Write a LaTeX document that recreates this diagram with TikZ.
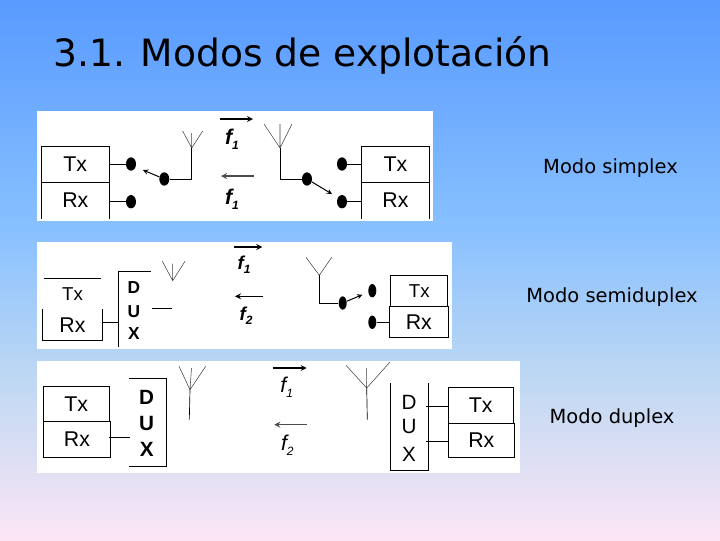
\documentclass[tikz,border=0pt]{standalone}
\usepackage{fontspec}
\setmainfont{DejaVu Sans}
\newfontfamily\arialfont{Liberation Sans}
\usetikzlibrary{shapes.geometric}
\definecolor{bgtop}{RGB}{88,154,255}
\definecolor{bgupper}{RGB}{136,192,255}
\definecolor{bglower}{RGB}{190,216,243}
\definecolor{bgbottom}{RGB}{252,230,245}
\pgfdeclareverticalshading{slidebg}{100bp}{color(0bp)=(bgbottom); color(25bp)=(bgbottom); color(40bp)=(bglower); color(54bp)=(bgupper); color(75bp)=(bgtop); color(100bp)=(bgtop)}
\newcommand{\fsub}[1]{f\raisebox{-0.45ex}{\fontsize{9}{9}\selectfont #1}}
\tikzset{
  panel/.style={draw=none, fill=white},
  unit/.style={font=\arialfont\fontsize{16}{16}\selectfont, inner sep=0pt},
  unitsmall/.style={font=\arialfont\fontsize{14}{14}\selectfont, inner sep=0pt},
  unitbox/.style={unit, draw, line width=0.75pt},
  duxbold/.style={font=\arialfont\bfseries\fontsize{15.5}{15.5}\selectfont, inner sep=0pt},
  duxsmall/.style={font=\arialfont\bfseries\fontsize{13}{13}\selectfont, inner sep=0pt},
  duxplain/.style={font=\arialfont\fontsize{15.5}{15.5}\selectfont, inner sep=0pt},
  freq/.style={font=\arialfont\bfseries\itshape\fontsize{16}{16}\selectfont, inner sep=0pt},
  freqsmall/.style={font=\arialfont\bfseries\itshape\fontsize{14}{14}\selectfont, inner sep=0pt},
  freqplain/.style={font=\arialfont\itshape\fontsize{16}{16}\selectfont, inner sep=0pt},
  dot/.style={ellipse, fill=black, inner sep=0pt, minimum width=7.5pt, minimum height=10pt},
  modo/.style={font=\fontsize{14.6}{14.6}\selectfont, inner sep=0pt},
  wire/.style={line width=0.75pt},
  aerial/.style={line width=0.4pt, black!75},
  wave/.style={->,>=stealth, line width=1pt},
}
\begin{document}
\begin{tikzpicture}[x=0.75pt,y=-0.75pt]
\shade[shading=slidebg] (0,0) rectangle (720,540);
\useasboundingbox (0,0) rectangle (720,540);
\node[anchor=base west, inner sep=0pt, font=\fontsize{28.2}{28.2}\selectfont] (title) at (53,66) {3.1. Modos de explotación};

\fill[panel] (37,111) rectangle (433,221);
\fill[panel] (37,242) rectangle (452,349);
\fill[panel] (37,361) rectangle (519.5,473);

\node[modo] (m1) at (610.5,168) {Modo simplex};
\node[modo] (m2) at (612,297) {Modo semiduplex};
\node[modo] (m3) at (612,418) {Modo duplex};

% simplex
\node[unitbox, minimum width=51pt, minimum height=27pt] (tx1) at (75.3,164.3) {Tx};
\node[unit, minimum width=51pt, minimum height=27pt] (rx1) at (75.3,200.5) {Rx};
\draw[wire] (rx1.north west) -- (rx1.south west);
\draw[wire] (rx1.north east) -- (rx1.south east);
\node[dot] (d1) at (131,164) {};
\node[dot] (d2) at (131,201.7) {};
\node[dot] (d3) at (164.3,179) {};
\coordinate (a1) at (191.7,148);
\coordinate (e1) at (191.7,179);
\coordinate (s1) at (143,170);
\draw[wire] (tx1.east |- d1) -- (d1);
\draw[wire] (rx1.east |- d2) -- (d2);
\draw[wire] (d3) -- (e1) -- (a1);
\draw[->,>=stealth, wire] (d3) -- (s1);
\draw[aerial] (a1) -- ++(-9,-17) (a1) -- ++(11,-17) (a1) -- ++(0,-15);
\coordinate (w1a) at (220,119);
\coordinate (w1b) at (253,119);
\coordinate (w2a) at (254,176);
\coordinate (w2b) at (221,176);
\draw[wave] (w1a) -- (w1b);
\draw[wave, black!70] (w2a) -- (w2b);
\node[freq] (f1) at (232,139) {\fsub{1}};
\node[freq] (f2) at (232,199) {\fsub{1}};
\node[dot] (d4) at (307,179) {};
\node[dot] (d5) at (342,164) {};
\node[dot] (d6) at (342,201.7) {};
\coordinate (a2) at (280,148);
\coordinate (e2) at (280,179);
\coordinate (s2) at (332,194);
\draw[wire] (d4) -- (e2) -- (a2);
\draw[->,>=stealth, wire] (d4) -- (s2);
\draw[aerial] (a2) -- ++(-16,-24) (a2) -- ++(12,-24) (a2) -- ++(0,-24);
\node[unitbox, minimum width=51pt, minimum height=27pt] (tx2) at (395.5,164.3) {Tx};
\node[unit, minimum width=51pt, minimum height=27pt] (rx2) at (395.5,200.5) {Rx};
\draw[wire] (rx2.north west) -- (rx2.south west);
\draw[wire] (rx2.north east) -- (rx2.south east);
\draw[wire] (d5) -- (tx2.west |- d5);
\draw[wire] (d6) -- (rx2.west |- d6);

% semiduplex
\node[unitsmall, minimum width=43pt, minimum height=23pt] (tx3) at (72.5,294) {Tx};
\draw[wire] (tx3.north west) -- (tx3.north east);
\node[unit, minimum width=44pt, minimum height=23pt] (rx3) at (72.5,325) {Rx};
\draw[wire] (rx3.north west) -- (rx3.south west) -- (rx3.south east) -- (rx3.north east);
\node[duxsmall] (dl1) at (134,287.3) {D};
\node[duxsmall] (ul1) at (134,311.3) {U};
\node[duxsmall] (xl1) at (134,334) {X};
\coordinate (c1) at (118.3,271.3);
\coordinate (c2) at (118.3,347.3);
\coordinate (c3) at (150.7,271.3);
\draw[wire] (c2) -- (c1) -- (c3);
\coordinate (c4) at (118.3,322.3);
\draw[wire] (rx3.east |- c4) -- (c4);
\coordinate (c5) at (152.3,308.3);
\coordinate (c6) at (171.7,308.3);
\draw[wire] (c5) -- (c6);
\coordinate (a3) at (172.7,280.7);
\draw[aerial] (a3) -- ++(-10.4,-19.4) (a3) -- ++(12.3,-19.4) (a3) -- ++(0,-17);
\coordinate (w3a) at (234,247);
\coordinate (w3b) at (262.3,247);
\coordinate (w4a) at (263.3,296.3);
\coordinate (w4b) at (235,296.3);
\draw[wave] (w3a) -- (w3b);
\draw[wave] (w4a) -- (w4b);
\node[freqsmall] (f3) at (244,265) {\fsub{1}};
\node[freqsmall] (f4) at (246,316) {\fsub{2}};
\node[dot, minimum width=6pt] (d7) at (342.7,303) {};
\node[dot, minimum width=6pt] (d8) at (372.3,290.7) {};
\node[dot, minimum width=6pt] (d9) at (372.3,322.3) {};
\coordinate (a4) at (319.3,275.3);
\coordinate (e4) at (319.3,303);
\coordinate (s4) at (362.3,294.7);
\draw[wire] (d7) -- (e4) -- (a4);
\draw[->,>=stealth, wire] (d7) -- (s4);
\draw[aerial] (a4) -- ++(-13.3,-18) (a4) -- ++(12.4,-18);
\node[unitsmall, minimum width=42.5pt, minimum height=23pt] (tx4) at (419.3,291) {Tx};
\draw[wire] (tx4.south west) -- (tx4.north west) -- (tx4.north east) -- (tx4.south east);
\node[unitbox, minimum width=44pt, minimum height=23pt] (rx4) at (418.8,321.7) {Rx};
\draw[wire] (d9) -- (rx4.west |- d9);

% duplex
\node[unitbox, minimum width=49.5pt, minimum height=26pt] (tx5) at (76.3,404) {Tx};
\node[unitbox, minimum width=50.5pt, minimum height=27pt] (rx5) at (77,439.3) {Rx};
\coordinate (c7) at (129.3,378);
\coordinate (c8) at (166.7,378);
\coordinate (c9) at (166.7,466.3);
\coordinate (c10) at (129.3,466.3);
\draw[wire] (c7) -- (c8) -- (c9) -- (c10);
\node[duxbold] (dl2) at (146.7,397) {D};
\node[duxbold] (ul2) at (146.7,423) {U};
\node[duxbold] (xl2) at (146.7,449.7) {X};
\coordinate (c11) at (130,437.3);
\draw[wire] (rx5.east |- c11) ++(-2,0) -- (c11);
\coordinate (a5) at (190,389.7);
\coordinate (e5) at (189.3,419.7);
\draw[wire, line width=0.5pt] (e5) -- (a5);
\draw[aerial] (a5) -- ++(-11,-23.4) (a5) -- ++(15.7,-23.4) (a5) -- ++(1.5,-21.7);
\coordinate (w5a) at (272.7,368);
\coordinate (w5b) at (306.7,368);
\coordinate (w6a) at (306.7,424.7);
\coordinate (w6b) at (274.3,424.7);
\draw[wave] (w5a) -- (w5b);
\draw[wave, black!70] (w6a) -- (w6b);
\node[freqplain] (f5) at (286.7,387.3) {\fsub{1}};
\node[freqplain] (f6) at (287.3,445.7) {\fsub{2}};
\coordinate (a6) at (366.7,388);
\coordinate (e6) at (367.3,419.7);
\draw[wire, line width=0.5pt] (e6) -- (a6);
\draw[aerial] (a6) -- ++(-20.7,-22.7) (a6) -- ++(23.3,-26) (a6) -- ++(0,-20);
\coordinate (c12) at (390.7,383);
\coordinate (c13) at (390.7,470.3);
\coordinate (c14) at (428.7,470.3);
\coordinate (c15) at (428.7,383);
\draw[wire] (c12) -- (c13) -- (c14) -- (c15);
\node[duxplain] (dl3) at (409,402.3) {D};
\node[duxplain] (ul3) at (409,426.3) {U};
\node[duxplain] (xl3) at (409,454.7) {X};
\node[unitbox, minimum width=48.7pt, minimum height=26.7pt] (tx6) at (480.8,405.2) {Tx};
\node[unitbox, minimum width=49.5pt, minimum height=26.2pt] (rx6) at (481.3,440.5) {Rx};
\coordinate (c16) at (426,406.3);
\coordinate (c17) at (426,441.3);
\draw[wire] (c16) -- (tx6.west |- c16);
\draw[wire] (c17) -- (rx6.west |- c17);
\end{tikzpicture}
\end{document}
